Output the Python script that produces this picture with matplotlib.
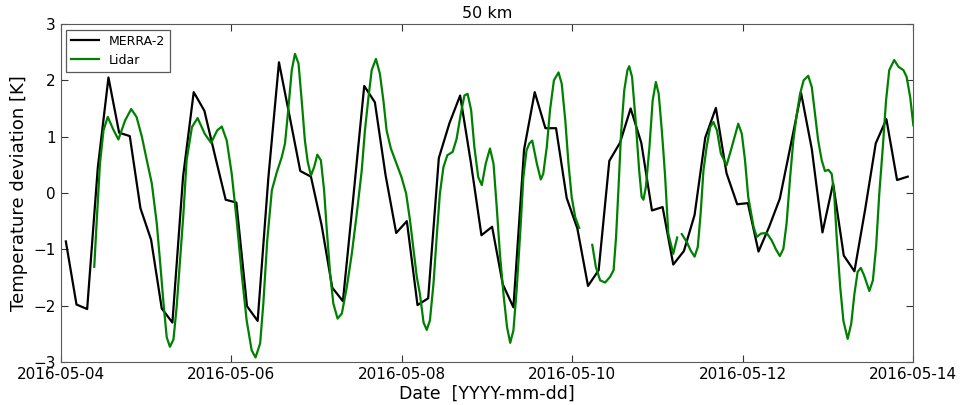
import numpy as np
import pandas as pd
import matplotlib
matplotlib.use('Agg')
import matplotlib.pyplot as plt
import matplotlib.dates as mdates

# MERRA-2 3-hourly temperature deviation at 50 km [K], first value at 01:30
merra_start = '2016-05-04 01:30'
merra = [-0.86, -1.98, -2.06, 0.45, 2.05, 1.07, 1.01, -0.27, -0.83, -2.05,
         -2.30, 0.29, 1.79, 1.46, 0.66, -0.12, -0.17, -2.01, -2.27, 0.26,
         2.32, 1.36, 0.39, 0.29, -0.57, -1.68, -1.92, -0.03, 1.90, 1.61,
         0.32, -0.71, -0.50, -1.99, -1.87, 0.62, 1.24, 1.73, 0.55, -0.75,
         -0.60, -1.62, -2.03, 0.77, 1.79, 1.15, 1.15, -0.09, -0.63, -1.65,
         -1.37, 0.57, 0.89, 1.50, 0.89, -0.31, -0.25, -1.27, -1.03, -0.39,
         0.98, 1.51, 0.35, -0.20, -0.18, -1.04, -0.60, -0.10, 0.83, 1.77,
         0.78, -0.70, 0.17, -1.11, -1.39, -0.30, 0.88, 1.31, 0.23, 0.29]

# Lidar temperature deviation [K], hours after 2016-05-04 00:00 (NaN = no data)
lidar_hours = [
    9.5, 10.2, 11.1, 12.1, 13.3, 14.9, 16.3, 18.2, 19.9, 21.4,
    22.9, 24.3, 25.7, 27.1, 28.0, 29.0, 29.9, 30.8, 31.8, 32.7,
    33.6, 34.6, 35.5, 37.0, 38.6, 40.6, 42.4, 44.1, 45.4, 46.8,
    48.2, 49.6, 51.0, 52.4, 53.8, 54.9, 56.2, 57.1, 58.2, 59.5,
    60.9, 62.3, 63.2, 64.1, 65.1, 66.0, 67.0, 67.9, 68.8, 69.6,
    70.5, 71.4, 72.3, 73.3, 74.2, 74.9, 75.9, 76.8, 78.0, 79.2,
    80.6, 82.0, 83.4, 84.8, 85.7, 86.7, 87.6, 88.8, 89.9, 90.9,
    91.8, 93.0, 94.6, 96.0, 97.3, 98.4, 99.3, 100.3, 101.2, 102.2,
    103.1, 104.0, 105.0, 105.9, 106.8, 107.8, 108.9, 110.4, 111.5, 112.7,
    113.7, 114.6, 115.6, 116.5, 117.6, 118.6, 119.7, 120.9, 121.9, 122.8,
    123.7, 124.7, 125.7, 126.6, 127.5, 128.4, 129.4, 130.3, 131.2, 132.0,
    132.8, 134.1, 135.2, 135.9, 136.9, 137.8, 138.9, 140.2, 141.1, 142.1,
    143.0, 143.9, 144.9, 146.0,
    147.8,
    149.7, 150.7, 151.9, 153.3, 154.7, 155.7, 156.4, 157.1, 157.8, 158.7,
    159.6, 160.1, 160.9, 161.9, 162.9, 163.6, 164.1, 164.8, 165.8, 166.7,
    167.6, 168.4, 169.2, 169.7, 170.2, 171.1, 172.5, 173.6,
    174.3,
    174.9, 176.3, 177.4, 178.5, 179.4, 180.2, 181.0, 181.9, 182.9, 183.8,
    184.8, 185.9, 187.5, 189.0, 190.8, 191.8, 192.7, 193.6, 195.1, 196.0,
    197.2, 198.8, 200.2, 201.4, 202.5, 203.5, 204.4, 205.4, 206.3, 207.3,
    208.2, 209.2, 210.5, 211.5, 212.4, 213.3, 214.3, 215.2, 216.2, 217.1,
    217.8, 218.5, 219.5, 220.4, 221.6, 222.6, 223.5, 224.4, 225.3, 226.2,
    227.7, 228.7, 229.6, 230.5, 231.5, 232.4, 233.3, 234.7, 235.9, 237.3,
    238.2, 239.2, 240.1]
lidar = [
    -1.31, -0.49, 0.52, 1.11, 1.35, 1.12, 0.95, 1.29, 1.49, 1.35,
    1.00, 0.58, 0.17, -0.54, -1.20, -1.96, -2.56, -2.73, -2.60, -2.02,
    -1.25, -0.37, 0.58, 1.17, 1.33, 1.05, 0.89, 1.11, 1.18, 0.93,
    0.34, -0.49, -1.43, -2.26, -2.79, -2.92, -2.67, -1.96, -0.84, 0.05,
    0.37, 0.64, 0.88, 1.47, 2.18, 2.47, 2.30, 1.64, 0.93, 0.55,
    0.31, 0.46, 0.68, 0.58, 0.05, -0.60, -1.43, -1.96, -2.23, -2.14,
    -1.67, -1.08, -0.37, 0.40, 1.11, 1.70, 2.18, 2.38, 2.12, 1.64,
    1.11, 0.79, 0.52, 0.28, -0.01, -0.49, -0.96, -1.49, -1.80, -2.30,
    -2.43, -2.26, -1.61, -0.78, -0.01, 0.46, 0.67, 0.73, 0.96, 1.41,
    1.73, 1.76, 1.47, 0.82, 0.28, 0.14, 0.52, 0.79, 0.52, -0.25,
    -1.08, -1.79, -2.38, -2.66, -2.44, -1.73, -0.72, 0.28, 0.76, 0.88,
    0.93, 0.52, 0.24, 0.34, 0.82, 1.47, 2.00, 2.14, 1.94, 1.29,
    0.52, -0.07, -0.43, -0.62,
    np.nan,
    -0.92, -1.31, -1.55, -1.59, -1.49, -1.37, -0.78, 0.11, 1.05, 1.82,
    2.18, 2.25, 2.06, 1.29, 0.40, -0.07, -0.12, 0.11, 0.82, 1.64,
    1.97, 1.76, 1.17, 0.75, 0.30, -0.72, -1.08, -0.79,
    np.nan,
    -0.73, -0.87, -1.02, -1.13, -0.96, -0.37, 0.40, 0.82, 1.17, 1.26,
    1.11, 0.70, 0.49, 0.82, 1.23, 1.05, 0.58, -0.07, -0.60, -0.78,
    -0.72, -0.71, -0.84, -1.00, -1.12, -0.99, -0.54, 0.28, 0.93, 1.41,
    1.76, 2.00, 2.08, 1.88, 1.41, 0.93, 0.58, 0.39, 0.41, 0.34,
    -0.01, -0.78, -1.67, -2.27, -2.59, -2.32, -1.79, -1.40, -1.33, -1.46,
    -1.74, -1.55, -0.96, -0.01, 0.82, 1.64, 2.18, 2.36, 2.24, 2.18,
    2.06, 1.70, 1.20]

tick_dates = ['2016-05-04', '2016-05-06', '2016-05-08',
              '2016-05-10', '2016-05-12', '2016-05-14']

t0 = pd.Timestamp('2016-05-04')
merra_time = pd.date_range(merra_start, periods=len(merra), freq='3h')
lidar_time = t0 + pd.to_timedelta(lidar_hours, unit='h')

fig = plt.figure(figsize=(9.62, 4.05), dpi=100)
ax = fig.add_axes([0.0629, 0.1062, 0.8862, 0.8346])

ax.plot(merra_time, merra, color='k', lw=1.6, label='MERRA-2')
ax.plot(lidar_time, lidar, color='#008000', lw=1.6, label='Lidar')

ax.set_xlim(pd.Timestamp(tick_dates[0]), pd.Timestamp(tick_dates[-1]))
ax.set_ylim(-3, 3)
ax.set_xticks(pd.to_datetime(tick_dates))
ax.xaxis.set_major_formatter(mdates.DateFormatter('%Y-%m-%d'))
ax.set_yticks(np.arange(-3, 4))
ax.tick_params(direction='in', top=True, right=True, length=5,
               labelsize=11, color='0.2')

for sp in ax.spines.values():
    sp.set_color('0.35')

ax.set_title('50 km', fontsize=11.5, pad=4)
ax.set_xlabel('Date  [YYYY-mm-dd]', fontsize=12.5, labelpad=2)
ax.set_ylabel('Temperature deviation [K]', fontsize=13)

leg = ax.legend(loc='upper left', fontsize=9, fancybox=False,
                edgecolor='0.35', framealpha=1, borderaxespad=0.45,
                handlelength=2.2)
leg.get_frame().set_linewidth(0.9)

fig.savefig('out.png', dpi=100)
